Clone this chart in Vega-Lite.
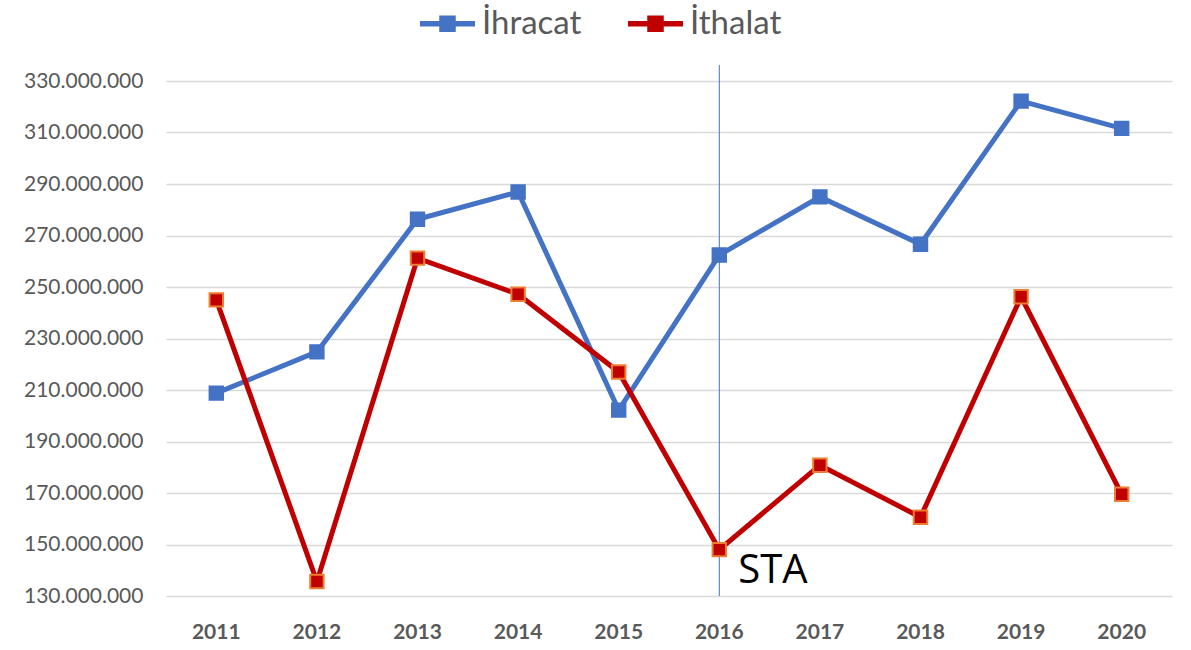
{
  "$schema": "https://vega.github.io/schema/vega-lite/v6.json",
  "autosize": "none",
  "width": 1006,
  "height": 515,
  "padding": {"left": 166, "top": 81, "right": 19, "bottom": 54},
  "background": "white",
  "config": {"view": {"stroke": null}, "font": "Lato"},
  "datasets": {
    "trade": [
      {"year": "2011", "series": "İhracat", "value": 208800000},
      {"year": "2012", "series": "İhracat", "value": 224800000},
      {"year": "2013", "series": "İhracat", "value": 276300000},
      {"year": "2014", "series": "İhracat", "value": 286900000},
      {"year": "2015", "series": "İhracat", "value": 202200000},
      {"year": "2016", "series": "İhracat", "value": 262400000},
      {"year": "2017", "series": "İhracat", "value": 285000000},
      {"year": "2018", "series": "İhracat", "value": 266600000},
      {"year": "2019", "series": "İhracat", "value": 322200000},
      {"year": "2020", "series": "İhracat", "value": 311600000},
      {"year": "2011", "series": "İthalat", "value": 245000000},
      {"year": "2012", "series": "İthalat", "value": 135600000},
      {"year": "2013", "series": "İthalat", "value": 261200000},
      {"year": "2014", "series": "İthalat", "value": 247200000},
      {"year": "2015", "series": "İthalat", "value": 217000000},
      {"year": "2016", "series": "İthalat", "value": 148000000},
      {"year": "2017", "series": "İthalat", "value": 180800000},
      {"year": "2018", "series": "İthalat", "value": 160600000},
      {"year": "2019", "series": "İthalat", "value": 246200000},
      {"year": "2020", "series": "İthalat", "value": 169500000}
    ],
    "sta": [{"year": "2016", "top": 336200000, "bottom": 130000000, "label": "STA", "labelY": 130000000}]
  },
  "encoding": {
    "x": {"field": "year", "type": "ordinal", "scale": {"type": "band", "paddingInner": 0, "paddingOuter": 0},
      "axis": {"title": null, "domain": false, "ticks": false, "labelPadding": 25, "labelFontSize": 21, "labelFontWeight": "bold", "labelColor": "#595959", "labelAngle": 0, "grid": false}}
  },
  "layer": [
    {
      "data": {"name": "sta"},
      "mark": {"type": "rule", "color": "#4472C4", "strokeWidth": 1},
      "encoding": {
        "y": {"field": "top", "type": "quantitative"},
        "y2": {"field": "bottom"}
      }
    },
    {
      "data": {"name": "trade"},
      "mark": {"type": "line", "strokeWidth": 5},
      "encoding": {
        "y": {"field": "value", "type": "quantitative", "scale": {"domain": [130000000, 330000000], "nice": false, "zero": false},
          "axis": {"title": null, "domain": false, "ticks": false, "labelPadding": 23, "labelFontSize": 21, "labelColor": "#595959",
            "values": [130000000, 150000000, 170000000, 190000000, 210000000, 230000000, 250000000, 270000000, 290000000, 310000000, 330000000],
            "labelExpr": "replace(format(datum.value, ',.0f'), regexp(',', 'g'), '.')",
            "gridColor": "#d9d9d9", "gridWidth": 1.5}},
        "color": {"field": "series", "type": "nominal",
          "scale": {"domain": ["İhracat", "İthalat"], "range": ["#4472C4", "#C00000"]},
          "legend": {"title": null, "orient": "none", "direction": "horizontal", "legendX": 254, "legendY": -85,
            "labelFontSize": 33, "labelColor": "#595959", "labelOffset": 7, "columnPadding": 46, "labelLimit": 300,
            "symbolType": "M-1,-0.1H1V0.1H-1Z M-0.3,-0.3H0.3V0.3H-0.3Z", "symbolSize": 3025, "symbolStrokeWidth": 0,
            "encode": {"symbols": {"update": {"fill": {"scale": "color", "field": "value"}, "strokeWidth": {"value": 0}}}}}}
      }
    },
    {
      "data": {"name": "trade"},
      "mark": {"type": "point", "shape": "square", "filled": true, "size": 180, "opacity": 1},
      "encoding": {
        "y": {"field": "value", "type": "quantitative"},
        "color": {"field": "series", "type": "nominal", "legend": null},
        "stroke": {"field": "series", "type": "nominal", "scale": {"domain": ["İhracat", "İthalat"], "range": ["#4472C4", "#ED7D31"]}, "legend": null},
        "strokeWidth": {"value": 2}
      }
    },
    {
      "data": {"name": "sta"},
      "mark": {"type": "text", "fontSize": 40, "font": "Open Sans", "color": "#000000", "align": "left", "baseline": "bottom", "dx": 19, "dy": -5},
      "encoding": {
        "y": {"field": "labelY", "type": "quantitative"},
        "text": {"field": "label"}
      }
    }
  ]
}
